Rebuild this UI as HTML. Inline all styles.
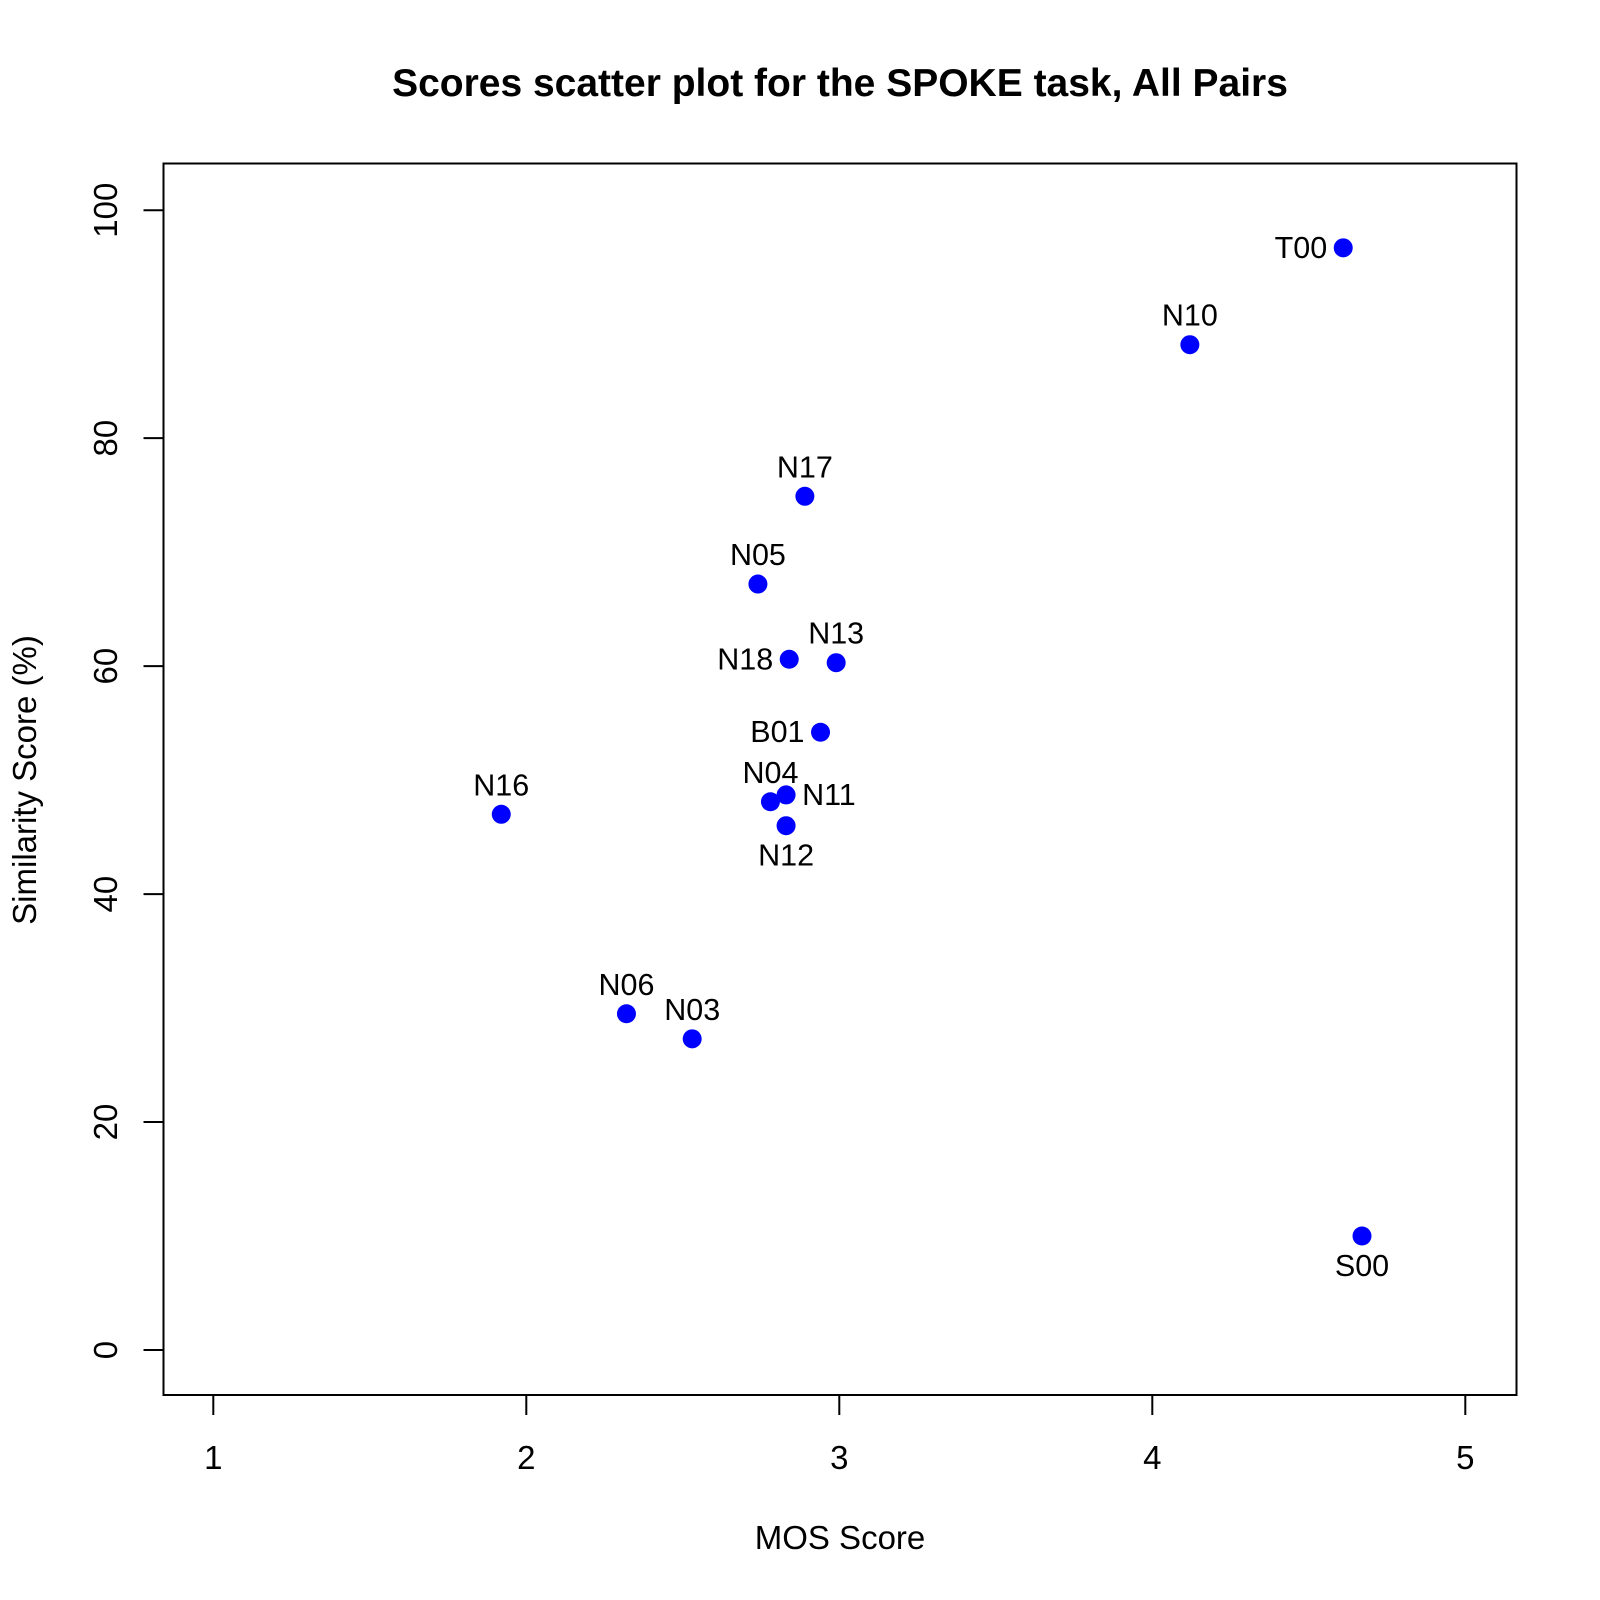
<!DOCTYPE html>
<html><head><meta charset="utf-8"><style>
html,body{margin:0;padding:0;background:#fff;}
svg{display:block;font-family:"Liberation Sans",sans-serif;}
</style></head><body>
<svg id="chart" width="1600" height="1600" viewBox="0 0 1600 1600" xmlns="http://www.w3.org/2000/svg">
<rect width="1600" height="1600" fill="#fff"/>
<text x="840" y="96" text-anchor="middle" font-size="39" font-weight="bold">Scores scatter plot for the SPOKE task, All Pairs</text>
<rect x="163.5" y="163.5" width="1353" height="1231.5" fill="none" stroke="#000" stroke-width="2"/>
<g id="xaxis"></g>
<g id="yaxis"></g>
<text x="840" y="1549" text-anchor="middle" font-size="33">MOS Score</text>
<text x="36" y="780" text-anchor="middle" font-size="33" transform="rotate(-90 36 780)">Similarity Score (%)</text>
<g id="points"></g>
</svg>
<script>
const labels = ["T00","N10","N17","N05","N18","N13","B01","N04","N11","N12","N16","N06","N03","S00"];
const mosScores = [4.61,4.12,2.89,2.74,2.84,2.99,2.94,2.78,2.83,2.83,1.92,2.32,2.53,4.67];
const simScores = [96.7,88.2,74.9,67.2,60.6,60.3,54.2,48.1,48.7,46.0,47.0,29.5,27.3,10.0];
const labelPos = ["left","above","above","above","left","above","left","above","right","below","above","above","above","below"];
const xTicks = [1,2,3,4,5];
const yTicks = [0,20,40,60,80,100];

const NS = "http://www.w3.org/2000/svg";
function xScale(v){ return 213.3 + (v-1)*313.0; }
function yScale(v){ return 1350.0 - v*11.398; }
function mk(tag, attrs, parent){ const e=document.createElementNS(NS,tag); for(const k in attrs) e.setAttribute(k,attrs[k]); parent.appendChild(e); return e; }

const xg=document.getElementById('xaxis');
mk('line',{x1:xScale(1),x2:xScale(5),y1:1395,y2:1395,stroke:'#000','stroke-width':2},xg);
xTicks.forEach(t=>{
  const l=mk('line',{x1:xScale(t),x2:xScale(t),y1:1395,y2:1415,stroke:'#000','stroke-width':2},xg);
  
  
  const tx=mk('text',{x:xScale(t),y:1469,'text-anchor':'middle','font-size':33},xg);
  tx.textContent=t;
  
  
});
const yg=document.getElementById('yaxis');
mk('line',{x1:163.5,x2:163.5,y1:yScale(0),y2:yScale(100),stroke:'#000','stroke-width':2},yg);
yTicks.forEach(t=>{
  const l=mk('line',{x1:143.5,x2:163.5,y1:yScale(t),y2:yScale(t),stroke:'#000','stroke-width':2},yg);
  
  
  const y=yScale(t), x=117;
  const tx=mk('text',{x:x,y:y,'text-anchor':'middle','font-size':33,transform:`rotate(-90 ${x} ${y})`},yg);
  tx.textContent=t;
  
  
});
const pg=document.getElementById('points');
labels.forEach((lab,i)=>{
  const cx=xScale(mosScores[i]), cy=yScale(simScores[i]);
  const c=mk('circle',{cx:cx,cy:cy,r:9.5,fill:'#0000ff'},pg);
  
  
  let x=cx,y=cy,anchor='middle';
  const p=labelPos[i];
  if(p==='above'){ y=cy-19; }
  else if(p==='below'){ y=cy+40; }
  else if(p==='left'){ x=cx-16; y=cy+10; anchor='end'; }
  else { x=cx+16; y=cy+10; anchor='start'; }
  const t=mk('text',{x:x,y:y,'text-anchor':anchor,'font-size':30.5},pg);
  t.textContent=lab;
  
  
});
</script>
</body></html>
